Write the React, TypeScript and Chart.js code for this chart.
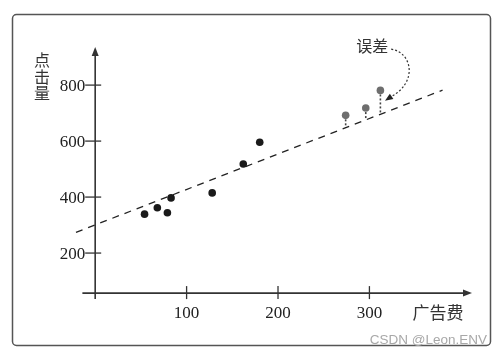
import React, { useEffect, useRef } from "react";
import Chart from "chart.js/auto";

// Data
const blackX = [54, 68, 79, 83, 128, 162, 180];
const blackY = [339, 362, 344, 397, 415, 518, 596];
const grayX = [274, 296, 312];
const grayY = [692, 718, 781];
const grayOnLine = [648, 676, 696];
const fitX = [-21, 380];
const fitY = [274, 782];
const xTicks = [100, 200, 300];
const yTicks = [200, 400, 600, 800];
const xLabel = "广告费";
const yLabel = ["点", "击", "量"];
const noteText = "误差";
const watermark = "CSDN @Leon.ENV";

const SERIF = '"Liberation Serif", "DejaVu Serif", serif';
const CJK = '"Noto Sans CJK SC", sans-serif';

const decor = {
  id: "decor",
  beforeDatasetsDraw(chart: any) {
    const ctx = chart.ctx;
    const xs = chart.scales.x;
    const ys = chart.scales.y;
    const px = (v: number) => xs.getPixelForValue(v);
    const py = (v: number) => ys.getPixelForValue(v);
    ctx.save();
    // frame
    ctx.strokeStyle = "#555";
    ctx.lineWidth = 1.5;
    ctx.beginPath();
    (ctx as any).roundRect(12.5, 14.5, 478, 331, 4);
    ctx.stroke();

    const x0 = px(0);
    const y0 = py(57);
    ctx.strokeStyle = "#333";
    ctx.fillStyle = "#333";
    ctx.lineWidth = 1.6;
    // x axis
    const xEnd = px(410);
    ctx.beginPath();
    ctx.moveTo(px(-14), y0);
    ctx.lineTo(xEnd - 4, y0);
    ctx.stroke();
    ctx.beginPath();
    ctx.moveTo(xEnd + 2, y0);
    ctx.lineTo(xEnd - 7, y0 - 3.5);
    ctx.lineTo(xEnd - 7, y0 + 3.5);
    ctx.closePath();
    ctx.fill();
    // y axis
    const yTop = py(929);
    ctx.beginPath();
    ctx.moveTo(x0, py(36));
    ctx.lineTo(x0, yTop + 4);
    ctx.stroke();
    ctx.beginPath();
    ctx.moveTo(x0, yTop - 2);
    ctx.lineTo(x0 - 3.5, yTop + 7);
    ctx.lineTo(x0 + 3.5, yTop + 7);
    ctx.closePath();
    ctx.fill();
    // ticks
    ctx.lineWidth = 1.3;
    ctx.font = `17px ${SERIF}`;
    ctx.fillStyle = "#222";
    for (const t of yTicks) {
      const y = py(t);
      ctx.beginPath();
      ctx.moveTo(x0 - 10, y);
      ctx.lineTo(x0 + 6, y);
      ctx.stroke();
      ctx.textAlign = "right";
      ctx.textBaseline = "middle";
      ctx.fillText(String(t), x0 - 10, y + 1);
    }
    for (const t of xTicks) {
      const x = px(t);
      ctx.beginPath();
      ctx.moveTo(x, y0 - 7);
      ctx.lineTo(x, y0 + 6);
      ctx.stroke();
      ctx.textAlign = "center";
      ctx.textBaseline = "middle";
      ctx.fillText(String(t), x, y0 + 20);
    }
    ctx.restore();
  },
  afterDraw(chart: any) {
    const ctx = chart.ctx;
    const xs = chart.scales.x;
    const ys = chart.scales.y;
    const px = (v: number) => xs.getPixelForValue(v);
    const py = (v: number) => ys.getPixelForValue(v);
    ctx.save();
    ctx.fillStyle = "#333";
    ctx.font = `16px ${CJK}`;
    ctx.textAlign = "center";
    ctx.textBaseline = "middle";
    yLabel.forEach((c, i) => ctx.fillText(c, 42, 60 + i * 16.5));
    ctx.font = `17px ${CJK}`;
    ctx.fillText(xLabel, 438, 313);
    // note
    ctx.font = `16px ${CJK}`;
    const nx = px(303);
    const ny = py(939);
    ctx.fillText(noteText, nx, ny);
    ctx.strokeStyle = "#333";
    ctx.lineWidth = 1.2;
    ctx.setLineDash([2, 2]);
    const tip = { x: px(317), y: py(744) };
    ctx.beginPath();
    ctx.moveTo(nx + 19, ny + 3);
    ctx.bezierCurveTo(nx + 40, ny + 6, nx + 46, ny + 36, tip.x + 6, tip.y - 4);
    ctx.stroke();
    ctx.setLineDash([]);
    ctx.fillStyle = "#222";
    // arrowhead pointing down-left
    const dx = -6, dy = 4;
    const len = Math.hypot(dx, dy);
    const ux = dx / len, uy = dy / len;
    const bx = tip.x - ux * 8, by = tip.y - uy * 8;
    ctx.beginPath();
    ctx.moveTo(tip.x, tip.y);
    ctx.lineTo(bx - uy * 3.2, by + ux * 3.2);
    ctx.lineTo(bx + uy * 3.2, by - ux * 3.2);
    ctx.closePath();
    ctx.fill();
    // watermark
    ctx.font = `13.5px "Liberation Sans", sans-serif`;
    ctx.fillStyle = "#a8a8a8";
    ctx.textAlign = "right";
    ctx.fillText(watermark, 487, 340);
    ctx.restore();
  },
};

export default function App() {
  const ref = useRef<HTMLCanvasElement | null>(null);
  useEffect(() => {
    if (!ref.current) return;
    const errorSets = grayX.map((x, i) => ({
      type: "line" as const,
      data: [
        { x, y: grayY[i] },
        { x, y: grayOnLine[i] },
      ],
      borderColor: "#444",
      borderWidth: 1.6,
      borderDash: [2, 2],
      pointRadius: 0,
      order: 3,
    }));
    const chart = new Chart(ref.current, {
      type: "scatter",
      data: {
        datasets: [
          {
            data: blackX.map((x, i) => ({ x, y: blackY[i] })),
            backgroundColor: "#1a1a1a",
            borderWidth: 0,
            pointRadius: 3.8,
            order: 1,
          },
          {
            data: grayX.map((x, i) => ({ x, y: grayY[i] })),
            backgroundColor: "#6e6e6e",
            borderWidth: 0,
            pointRadius: 3.8,
            order: 1,
          },
          {
            type: "line",
            data: fitX.map((x, i) => ({ x, y: fitY[i] })),
            borderColor: "#222",
            borderWidth: 1.3,
            borderDash: [7, 6],
            pointRadius: 0,
            order: 2,
          },
          ...errorSets,
        ] as any,
      },
      options: {
        animation: false,
        responsive: false,
        layout: { padding: { left: 12, top: 14, right: 11, bottom: 9 } },
        plugins: { legend: { display: false }, tooltip: { enabled: false } },
        scales: {
          x: { type: "linear", display: false, min: -91, max: 433 },
          y: { type: "linear", display: false, min: -132, max: 1054 },
        },
      },
      plugins: [decor],
    });
    return () => chart.destroy();
  }, []);
  return (
    <div style={{ position: "absolute", left: 0, top: 0, width: 502, height: 355, background: "#fff" }}>
      <canvas ref={ref} width={502} height={355} />
    </div>
  );
}
